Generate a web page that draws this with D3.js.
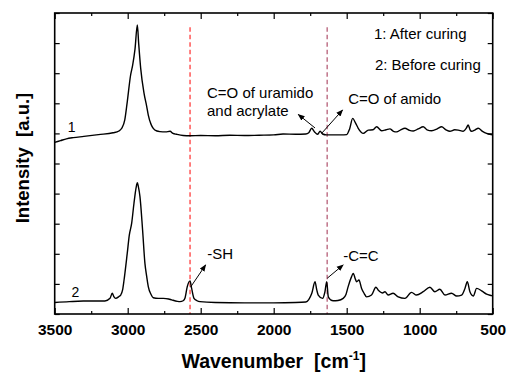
<!DOCTYPE html>
<html>
<head>
<meta charset="utf-8">
<script src="https://cdn.jsdelivr.net/npm/d3@7"></script>
<style>
  html, body { margin: 0; padding: 0; background: #fff; }
  svg { display: block; font-family: "Liberation Sans", Arial, sans-serif; }
</style>
</head>
<body>
<svg id="chart" width="508" height="373"></svg>
<script>
// FTIR spectra of the coating, after and before UV curing (offset vertically)
const afterWavenumber = [3500,3460,3420,3373,3300,3200,3100,3060,3041,3020,3003,2980,2966,2950,2934,2925,2911,2888,2870,2859,2840,2825,2800,2779,2740,2710,2690,2665,2620,2574,2500,2400,2300,2200,2100,2000,1936,1850,1780,1760,1740,1720,1700,1682,1665,1640,1600,1540,1500,1480,1459,1440,1421,1387,1352,1320,1295,1261,1230,1204,1180,1158,1130,1101,1070,1044,1010,976,950,918,880,850,820,793,760,736,702,680,668,655,645,620,599,570,542,520,500];
const afterIntensity  = [5.70,5.76,5.82,5.86,5.90,5.96,6.02,6.08,6.17,6.45,7.05,7.94,8.27,8.80,9.60,9.00,8.16,7.33,6.90,6.61,6.30,6.17,6.08,6.06,6.05,6.07,6.00,5.97,5.93,5.92,5.93,5.92,5.94,5.93,5.94,5.95,5.98,5.97,5.98,6.02,6.17,6.05,5.97,6.07,5.98,5.95,5.95,5.95,5.96,6.15,6.50,6.35,6.17,6.00,6.11,6.12,6.22,6.09,6.12,6.15,6.07,6.05,6.12,6.17,6.10,6.08,6.15,6.22,6.12,6.09,6.15,6.22,6.12,6.07,6.12,6.11,6.07,6.18,6.28,6.12,6.07,6.12,6.17,6.07,6.00,5.97,5.95];

const beforeWavenumber = [3500,3400,3304,3200,3156,3121,3106,3095,3083,3060,3048,3035,3025,3003,2989,2973,2957,2943,2934,2927,2916,2898,2882,2870,2859,2840,2825,2790,2756,2720,2699,2660,2642,2620,2608,2592,2573,2562,2546,2525,2505,2400,2200,2000,1850,1780,1760,1739,1717,1705,1695,1665,1649,1637,1626,1610,1592,1560,1524,1505,1490,1470,1455,1440,1432,1416,1398,1380,1364,1330,1300,1285,1272,1255,1238,1216,1182,1147,1101,1056,1022,976,930,896,862,827,782,747,713,690,674,656,633,610,576,542,507,500];
const beforeIntensity  = [0.38,0.41,0.43,0.43,0.43,0.52,0.69,0.58,0.52,0.58,0.63,0.80,1.13,2.02,2.62,3.01,3.68,4.18,4.36,4.23,3.90,2.79,1.68,1.25,0.91,0.65,0.54,0.52,0.52,0.50,0.47,0.42,0.41,0.44,0.52,0.91,1.10,0.85,0.52,0.44,0.41,0.38,0.37,0.37,0.38,0.40,0.48,0.69,1.07,0.80,0.63,0.52,0.74,1.07,0.57,0.47,0.44,0.45,0.52,0.65,0.91,1.20,1.35,1.15,1.07,1.13,0.85,0.68,0.57,0.63,0.89,0.80,0.74,0.70,0.74,0.63,0.69,0.57,0.52,0.72,0.63,0.74,0.89,0.74,0.82,0.63,0.69,0.60,0.63,0.85,1.07,0.74,0.60,0.85,0.77,0.66,0.61,0.60];

// Axis ticks
const xMajorTicks = [3500,3000,2500,2000,1500,1000,500];
const xMinorTicks = [3250,2750,2250,1750,1250,750];
const yTicks = [0,1,2,3,4,5,6,7,8,9,10];

// Reference lines (-SH at 2573, C=C at 1634)
const markerWavenumber = [2573, 1634];
const markerTop = [9.53, 9.53];
const markerColor = ["#ff1a1a", "#a8405e"];

// Annotations: text with its left/baseline anchor in data units
const noteText = ["1: After curing", "2: Before curing", "C=O of uramido", "and acrylate", "C=O of amido", "-SH", "-C=C"];
const noteW    = [1313, 1307, 2457, 2457, 1490, 2455, 1524];
const noteI    = [9.14, 8.11, 7.19, 6.58, 6.98, 1.84, 1.76];

// Arrows: from point on spectrum to tip
const arrowFromW = [1717, 1672, 2570, 1633];
const arrowFromI = [6.18, 6.00, 0.89, 1.19];
const arrowToW   = [1832, 1528, 2466, 1524];
const arrowToI   = [6.63, 6.78, 1.63, 1.63];

// Curve numbers
const curveLabel = ["1", "2"];
const curveLabelW = [3410, 3385];
const curveLabelI = [6.06, 0.56];

const svg = d3.select("#chart");
const margin = {left: 54.7, right: 15.3, top: 13, bottom: 59};
const W = 508, H = 373;

const x = d3.scaleLinear().domain([3500, 500]).range([margin.left, W - margin.right]);
const y = d3.scaleLinear().domain([0, 10]).range([H - margin.bottom, margin.top]);

const defs = svg.append("defs");
defs.append("marker")
  .attr("id", "head")
  .attr("viewBox", "0 0 10 10")
  .attr("refX", 9).attr("refY", 5)
  .attr("markerWidth", 7).attr("markerHeight", 7)
  .attr("markerUnits", "userSpaceOnUse")
  .attr("orient", "auto")
  .append("path")
  .attr("d", "M0,1 L10,5 L0,9 Z")
  .attr("fill", "#000");

// Dashed reference lines
svg.append("g").selectAll("line")
  .data(markerWavenumber)
  .join("line")
  .attr("x1", d => x(d)).attr("x2", d => x(d))
  .attr("y1", (d, i) => y(markerTop[i])).attr("y2", y(0))
  .attr("stroke", (d, i) => markerColor[i])
  .attr("stroke-width", 1.1)
  .attr("stroke-dasharray", "4.5,3");

// Spectra
const line = d3.line()
  .x(d => x(d[0]))
  .y(d => y(d[1]))
  .curve(d3.curveMonotoneX);

const series = [
  d3.zip(afterWavenumber, afterIntensity),
  d3.zip(beforeWavenumber, beforeIntensity)
];

svg.append("g").selectAll("path")
  .data(series)
  .join("path")
  .attr("d", line)
  .attr("fill", "none")
  .attr("stroke", "#000")
  .attr("stroke-width", 1.4)
  .attr("stroke-linejoin", "round");

// Axes with inward ticks on all four sides
const axisFont = g => g.selectAll("text")
  .attr("font-size", "15.5px").attr("font-weight", "bold")
  .attr("font-family", "'Liberation Sans', Arial, sans-serif").attr("fill", "#000");

const bottom = svg.append("g")
  .attr("transform", `translate(0,${y(0)})`)
  .call(d3.axisBottom(x).tickValues(xMajorTicks).tickFormat(d3.format("d"))
    .tickSizeInner(-6).tickSizeOuter(0).tickPadding(10));
bottom.call(axisFont);
svg.append("g")
  .attr("transform", `translate(0,${y(0)})`)
  .call(d3.axisBottom(x).tickValues(xMinorTicks).tickFormat("")
    .tickSizeInner(-3).tickSizeOuter(0));

svg.append("g")
  .attr("transform", `translate(0,${y(10)})`)
  .call(d3.axisTop(x).tickValues(xMajorTicks).tickFormat("")
    .tickSizeInner(-6).tickSizeOuter(0));
svg.append("g")
  .attr("transform", `translate(0,${y(10)})`)
  .call(d3.axisTop(x).tickValues(xMinorTicks).tickFormat("")
    .tickSizeInner(-3).tickSizeOuter(0));

svg.append("g")
  .attr("transform", `translate(${x(3500)},0)`)
  .call(d3.axisLeft(y).tickValues(yTicks).tickFormat("")
    .tickSizeInner(-5).tickSizeOuter(0));
svg.append("g")
  .attr("transform", `translate(${x(500)},0)`)
  .call(d3.axisRight(y).tickValues(yTicks).tickFormat("")
    .tickSizeInner(-5).tickSizeOuter(0));

svg.selectAll(".domain").remove();
svg.selectAll(".tick line").attr("stroke", "#000").attr("stroke-width", 1.2);

// Plot frame
svg.append("rect")
  .attr("x", x(3500)).attr("y", y(10))
  .attr("width", x(500) - x(3500)).attr("height", y(0) - y(10))
  .attr("fill", "none").attr("stroke", "#000").attr("stroke-width", 1.6);

// Axis titles
const xt = svg.append("text")
  .attr("x", (x(3500) + x(500)) / 2).attr("y", 368)
  .attr("text-anchor", "middle")
  .attr("font-size", "19.5px").attr("font-weight", "bold");
xt.append("tspan").text("Wavenumber\u00a0\u00a0[cm");
xt.append("tspan").attr("font-size", "12px").attr("dy", "-8").text("-1");
xt.append("tspan").attr("dy", "8").text("]");

svg.append("text")
  .attr("transform", `translate(29,158) rotate(-90)`)
  .attr("text-anchor", "middle")
  .attr("font-size", "18.5px").attr("font-weight", "bold")
  .text("Intensity\u00a0\u00a0[a.u.]");

// Annotation labels
svg.append("g").selectAll("text")
  .data(noteText)
  .join("text")
  .attr("x", (d, i) => x(noteW[i]))
  .attr("y", (d, i) => y(noteI[i]))
  .attr("font-size", "15px")
  .attr("fill", "#000")
  .text(d => d);

// Arrows
svg.append("g").selectAll("line")
  .data(arrowFromW)
  .join("line")
  .attr("x1", (d, i) => x(arrowFromW[i])).attr("y1", (d, i) => y(arrowFromI[i]))
  .attr("x2", (d, i) => x(arrowToW[i])).attr("y2", (d, i) => y(arrowToI[i]))
  .attr("stroke", "#000").attr("stroke-width", 1)
  .attr("marker-end", "url(#head)");

// Curve numbers
svg.append("g").selectAll("text")
  .data(curveLabel)
  .join("text")
  .attr("x", (d, i) => x(curveLabelW[i]))
  .attr("y", (d, i) => y(curveLabelI[i]))
  .attr("font-size", "14px")
  .text(d => d);
</script>
</body>
</html>
